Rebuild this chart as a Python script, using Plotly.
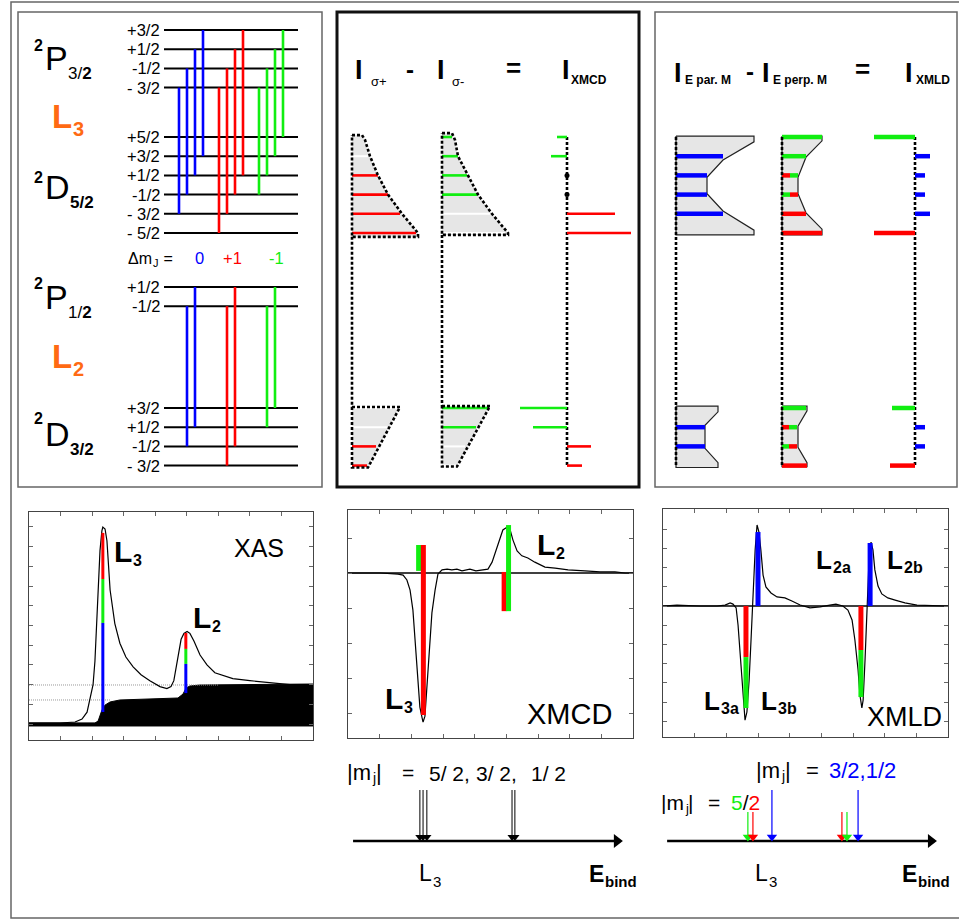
import re
import plotly.graph_objects as go

W, H = 959, 919
FONT = "Liberation Sans"
BLUE, RED, GREEN, ORANGE = "#0000ff", "#ff0000", "#11ee11", "#ff6a13"
GRAYFILL = "#e6e6e6"
COL = {"b": BLUE, "r": RED, "g": GREEN, "w": "#ffffff"}

# ---------------- data: level scheme ----------------
P32_m = [1.5, 0.5, -0.5, -1.5]
P32_lab = ["+3/2", "+1/2", "-1/2", "- 3/2"]
D52_m = [2.5, 1.5, 0.5, -0.5, -1.5, -2.5]
D52_lab = ["+5/2", "+3/2", "+1/2", "-1/2", "- 3/2", "- 5/2"]
P12_m = [0.5, -0.5]
P12_lab = ["+1/2", "-1/2"]
D32_m = [1.5, 0.5, -0.5, -1.5]
D32_lab = ["+3/2", "+1/2", "-1/2", "- 3/2"]
dm_values = [0, 1, -1]
dm_labels = ["0", "+1", "-1"]
dm_colors = ["b", "r", "g"]

# ---------------- data: XMCD schematic (line lengths per D level) ----------------
sigp_L3_red = [0, 0, 26, 36, 48, 64]
sigp_L3_white = [0, 16, 0, 0, 0, 0]
sigm_L3_green = [10, 16, 25, 35, 0, 0]
sigm_L3_white = [0, 0, 0, 0, 48, 63]
sigp_L2_red = [0, 0, 24, 15]
sigp_L2_white = [48, 35, 0, 0]
sigm_L2_green = [47, 34, 0, 0]
sigm_L2_white = [0, 0, 23, 16]
sigp_L3_env = [(-0.1, 10), (0.15, 13), (1, 18), (2, 26), (3, 36), (4, 50), (5, 66), (5.2, 66)]
sigm_L3_env = [(-0.2, 10), (0.15, 13), (1, 16), (2, 26), (3, 36), (4, 50), (5, 66), (5.1, 66)]
sigp_L2_env = [(-0.05, 48), (3.1, 16)]
sigm_L2_env = [(-0.1, 48), (3.05, 15)]

# ---------------- data: XMLD schematic ----------------
par_L3 = [[], [("b", 47)], [("b", 31)], [("b", 31)], [("b", 47)], []]
perp_L3 = [[("g", 40)], [("g", 24)], [("r", 8), ("g", 8)], [("g", 8), ("r", 8)], [("r", 24)], [("r", 40)]]
xmld_L3 = [("g", -41), ("b", 15), ("b", 10), ("b", 10), ("b", 15), ("r", -41)]
par_L2 = [[], [("b", 29)], [("b", 29)], []]
perp_L2 = [[("g", 24)], [("r", 7), ("g", 8)], [("g", 7), ("r", 8)], [("r", 25)]]
xmld_L2 = [("g", -23), ("b", 10), ("b", 10), ("r", -25)]
par_L3_env = [(-0.05, 78), (0.25, 78), (1.2, 47), (2.1, 31), (2.95, 31), (3.85, 47), (4.85, 78), (5.1, 78)]
perp_L3_env = [(-0.05, 40), (0.2, 40), (1.05, 24), (2.1, 16), (2.95, 16), (3.95, 24), (4.8, 40), (5.1, 40)]
par_L2_env = [(-0.1, 42), (0.2, 42), (0.9, 29), (2.1, 29), (2.85, 42), (3.1, 42)]
perp_L2_env = [(-0.1, 25), (0.15, 25), (0.95, 16), (2.05, 16), (2.85, 25), (3.05, 25)]

# ---------------- data: spectra ----------------
xas_E = [0, 0.98, 1.46, 1.68, 1.84, 1.93, 2.03, 2.09, 2.15, 2.22, 2.25, 2.31, 2.34, 2.41, 2.47, 2.57,
         2.72, 2.88, 3.07, 3.30, 3.55, 3.83, 4.15, 4.37, 4.50, 4.59, 4.72, 4.82, 4.91, 5.01, 5.10,
         5.23, 5.42, 5.64, 5.89, 6.46, 7.00, 7.54, 8.27, 9.0]
xas_I = [0.005, 0.005, 0.01, 0.025, 0.06, 0.12, 0.20, 0.32, 0.51, 0.73, 0.88, 0.98, 1.00, 0.99, 0.93, 0.68,
         0.51, 0.41, 0.34, 0.29, 0.25, 0.22, 0.19, 0.18, 0.19, 0.22, 0.35, 0.43, 0.46, 0.47, 0.46,
         0.42, 0.35, 0.30, 0.26, 0.23, 0.22, 0.21, 0.20, 0.20]
step_E = [0, 2.09, 2.19, 2.25, 2.31, 2.41, 2.57, 2.88, 4.15, 4.72, 4.88, 4.98, 5.10, 5.42, 9.0]
step_I = [0.005, 0.005, 0.015, 0.04, 0.07, 0.096, 0.112, 0.122, 0.127, 0.132, 0.152, 0.183, 0.193, 0.198, 0.203]
xas_levels = [0.122, 0.198]
xas_level_end = [2.6, 6.0]
xas_peak_E = [2.34, 4.97]
xas_peak_top = [0.97, 0.462]
xas_parts = [[("r", 0.234), ("g", 0.223), ("b", 0.452)], [("r", 0.081), ("g", 0.076), ("b", 0.148)]]

xmcd_E = [0, 1.01, 1.58, 1.74, 1.86, 1.96, 2.05, 2.12, 2.21, 2.27, 2.34, 2.37, 2.43, 2.49, 2.59, 2.65,
          2.75, 2.84, 2.97, 3.13, 3.28, 3.44, 3.60, 3.73, 3.85, 4.04, 4.23, 4.42, 4.55, 4.67, 4.80,
          4.89, 5.02, 5.12, 5.21, 5.34, 5.49, 5.68, 5.90, 6.22, 6.54, 6.95, 7.48, 7.96, 8.43, 8.75, 9.0]
xmcd_I = [0, 0, -0.03, -0.06, -0.2, -0.49, -1.06, -1.91, -3.06, -3.83, -4.14, -4.26, -4.09, -3.34, -2.06, -1.14,
          -0.49, -0.03, 0.09, 0.11, 0.09, 0.11, 0.06, 0.09, 0.11, 0.06, 0.09, 0.11, 0.31, 0.66, 1.03,
          1.23, 1.31, 1.23, 0.94, 0.63, 0.49, 0.43, 0.31, 0.17, 0.14, 0.09, 0.06, 0.03, 0.03, 0, 0]
xmcd_bars = [("g", 2.23, 0.8, 0.06), ("r", 2.38, 0.8, -4.06), ("r", 4.93, 0.03, -1.09), ("g", 5.07, 1.37, -1.09)]

xmld_E = [0, 0.44, 1.17, 1.71, 1.96, 2.12, 2.21, 2.31, 2.37, 2.43, 2.49, 2.56, 2.59, 2.65, 2.72, 2.78,
          2.84, 2.91, 2.97, 3.03, 3.09, 3.16, 3.25, 3.41, 3.60, 3.85, 4.07, 4.33, 4.64, 4.96, 5.27,
          5.46, 5.68, 5.84, 5.97, 6.06, 6.16, 6.22, 6.28, 6.32, 6.38, 6.44, 6.50, 6.57, 6.63, 6.69,
          6.79, 6.91, 7.10, 7.33, 7.64, 8.02, 8.59, 9.0]
xmld_I = [0, 0.05, 0, 0, 0.05, 0.16, 0.1, -0.1, -0.99, -2.29, -3.85, -5.42, -5.94, -5.52, -3.85, -1.77,
          0.83, 2.92, 4.22, 3.85, 2.92, 1.61, 0.99, 0.68, 0.47, 0.42, 0.26, 0.05, -0.10, -0.05, 0.05,
          0.10, 0, -0.21, -0.73, -1.77, -3.33, -4.64, -5.31, -4.9, -2.81, -0.21, 2.14, 3.33, 2.92, 1.88,
          1.04, 0.63, 0.42, 0.31, 0.16, 0.05, 0, 0]
xmld_bars = [("r", 2.62, 0, -2.66), ("g", 2.62, -2.66, -5.31), ("b", 3.0, 3.85, 0),
             ("r", 6.25, 0, -2.29), ("g", 6.25, -2.29, -4.74), ("b", 6.54, 3.28, 0)]

# binding-energy arrows (in spectrum energy units)
xmcd_arrow_E = [2.27, 2.37, 2.49, 5.18, 5.27]
xmcd_axis_E = [0.16, 8.68]
xmld_arrow_E = [("g", 2.68, "low"), ("r", 2.84, "low"), ("b", 3.44, "high"),
                ("r", 5.65, "low"), ("g", 5.81, "low"), ("b", 6.16, "high")]
xmld_axis_E = [0.13, 8.65]

# ---------------- layout constants ----------------
STEP = 19.2
P32_TOP, D52_TOP, P12_TOP, D32_TOP = 30, 137, 287, 408
LEV_X0, LEV_X1 = 164, 298
TR_X0 = {0: 179, 1: 219, -1: 259}
TR_DX = 8
XAS_BOX = (29, 313, 512, 740)
XMCD_BOX = (348, 633, 510, 738)
XMLD_BOX = (663, 948, 509, 737)

fig = go.Figure()


def seg(x, y, color, width, dash=None, xa="x", ya="y"):
    fig.add_trace(go.Scatter(x=x, y=y, mode="lines", line=dict(color=color, width=width, dash=dash),
                             xaxis=xa, yaxis=ya, hoverinfo="skip", showlegend=False))


def poly(x, y, fill, lcolor, lwidth):
    fig.add_trace(go.Scatter(x=x, y=y, mode="lines", fill="toself", fillcolor=fill,
                             line=dict(color=lcolor, width=lwidth),
                             hoverinfo="skip", showlegend=False))


def marker(x, y, symbol, size, color):
    fig.add_trace(go.Scatter(x=[x], y=[y], mode="markers",
                             marker=dict(symbol=symbol, size=size, color=color, line=dict(width=0)),
                             hoverinfo="skip", showlegend=False))


def txt(x, y, text, size, color="black", bold=False, xanchor="left", family=FONT):
    fig.add_annotation(x=x, y=y, xref="x", yref="y", text=f"<b>{text}</b>" if bold else text,
                       showarrow=False, font=dict(size=size, color=color, family=family),
                       xanchor=xanchor, yanchor="middle", borderpad=0)


# approximate advance widths (em) of the font, to chain text pieces (main text + subscript)
WREG = {"|": 0.26, "m": 0.833, "j": 0.222, "J": 0.5, "Δ": 0.668, "L": 0.556, "P": 0.667, "D": 0.722,
        "E": 0.667, " ": 0.278, "\u00a0": 0.278, "=": 0.584, "/": 0.278, "b": 0.556, "i": 0.222,
        "n": 0.556, "d": 0.556, "a": 0.556}
WBOLD = {"L": 0.611, "E": 0.667, "b": 0.611, "i": 0.278, "n": 0.611, "d": 0.611, "a": 0.556, "/": 0.278}


def adv(s, size, bold):
    s = re.sub("<[^>]+>", "", s)
    table = WBOLD if bold else WREG
    return sum(table.get(ch, WREG.get(ch, 0.556)) for ch in s) * size


def chain(x, y, parts, color="black"):
    # parts: (text, size, bold, dy)
    for text, size, bold, dy in parts:
        txt(x, y + dy, text, size, color=color, bold=bold)
        x += adv(text, size, bold) + 0.8


def ly(top, ms, m):
    return top + (ms[0] - m) * STEP


# ---------------- frames ----------------
shapes = []
def rect(x0, y0, x1, y1, color, width):
    shapes.append(dict(type="rect", xref="x", yref="y", x0=x0, y0=y0, x1=x1, y1=y1,
                       line=dict(color=color, width=width), fillcolor="rgba(0,0,0,0)", layer="below"))
rect(11, 2, 964, 918, "#666666", 1.5)
rect(18, 12, 322, 487, "#666666", 1.5)
rect(337, 12, 639, 487, "#111111", 3)
rect(655, 12, 957, 487, "#666666", 1.5)

# ---------------- panel 1: level scheme ----------------
for top, ms, labs in [(P32_TOP, P32_m, P32_lab), (D52_TOP, D52_m, D52_lab),
                      (P12_TOP, P12_m, P12_lab), (D32_TOP, D32_m, D32_lab)]:
    for m, lab in zip(ms, labs):
        y = ly(top, ms, m)
        seg([LEV_X0, LEV_X1], [y, y], "black", 2)
        txt(161, y, lab, 16.5, xanchor="right")

for (ptop, pms, dtop, dms) in [(P32_TOP, P32_m, D52_TOP, D52_m), (P12_TOP, P12_m, D32_TOP, D32_m)]:
    for dm, c in zip(dm_values, dm_colors):
        for mp in pms:
            md = mp - dm
            if md not in dms:
                continue
            x = TR_X0[dm] + TR_DX * (mp + 1.5)
            seg([x, x], [ly(ptop, pms, mp), ly(dtop, dms, md)], COL[c], 2.6)

for (ysup, ymain, letter, s) in [(45, 58, "P", "3/<b>2</b>"), (177, 187, "D", "<b>5/2</b>"),
                                 (283, 297, "P", "1/<b>2</b>"), (418, 434, "D", "<b>3/2</b>")]:
    txt(44, ysup, "2", 16, bold=True, xanchor="right")
    chain(44, ymain, [(letter, 34, False, 0), (s, 17, False, 15)])
for (yL, s) in [(116, "3"), (356, "2")]:
    chain(51, yL, [("L", 33, True, 0), (s, 20, True, 13)], color=ORANGE)

chain(127, 258, [("Δm", 16, False, 0), ("J", 11, False, 5), ("\u00a0=", 16, False, 0)])
for lab, c, xc in zip(dm_labels, dm_colors, [199, 232, 276]):
    txt(xc, 258, lab, 16.5, color=COL[c], xanchor="center")

# ---------------- panel 2: XMCD schematic ----------------
def env_poly(x0, top, env):
    ys = [top + i * STEP for i, _ in env]
    xs = [x0 + w for _, w in env]
    return [x0] + xs + [x0, x0], [ys[0]] + ys + [ys[-1], ys[0]]

DOT = "3px,2px"
cols2 = [(352, D52_TOP, sigp_L3_env, [("w", sigp_L3_white), ("r", sigp_L3_red)]),
         (442, D52_TOP, sigm_L3_env, [("w", sigm_L3_white), ("g", sigm_L3_green)]),
         (352, D32_TOP, sigp_L2_env, [("w", sigp_L2_white), ("r", sigp_L2_red)]),
         (442, D32_TOP, sigm_L2_env, [("w", sigm_L2_white), ("g", sigm_L2_green)])]
for x0, top, env, lines in cols2:
    px, py = env_poly(x0, top, env)
    poly(px, py, GRAYFILL, "rgba(0,0,0,0)", 0)
    for c, vals in lines:
        for i, v in enumerate(vals):
            if v > 0:
                y = top + i * STEP
                seg([x0, x0 + v], [y, y], COL[c], 2.6 if c != "w" else 2)
    seg(px, py, "black", 2.6, DOT)
seg([352, 352], [D52_TOP + 5.2 * STEP, D32_TOP - 0.05 * STEP], "black", 2.6, DOT)
seg([442, 442], [D52_TOP + 5.1 * STEP, D32_TOP - 0.1 * STEP], "black", 2.6, DOT)
seg([567, 567], [D52_TOP, D32_TOP + 3 * STEP], "black", 2.6, DOT)
for top, plus, minus in [(D52_TOP, sigp_L3_red, sigm_L3_green), (D32_TOP, sigp_L2_red, sigm_L2_green)]:
    for i, (a, b) in enumerate(zip(plus, minus)):
        d = a - b
        y = top + i * STEP
        if abs(d) < 3:
            marker(567, y, "circle", 5, "black")
        elif d > 0:
            seg([567, 567 + d], [y, y], RED, 2.6)
        else:
            seg([567 + d, 567], [y, y], GREEN, 2.6)

txt(359, 70, "I", 27, bold=True, xanchor="center")
txt(370, 81, "σ+", 13)
txt(410, 69, "-", 24, bold=True, xanchor="center")
txt(441, 70, "I", 27, bold=True, xanchor="center")
txt(451, 81, "σ-", 13)
txt(513, 68, "=", 26, bold=True, xanchor="center")
txt(566, 70, "I", 27, bold=True, xanchor="center")
txt(570, 80, "XMCD", 12, bold=True)

# ---------------- panel 3: XMLD schematic ----------------
for x0, top, env, rows in [(676, D52_TOP, par_L3_env, par_L3), (782, D52_TOP, perp_L3_env, perp_L3),
                           (676, D32_TOP, par_L2_env, par_L2), (782, D32_TOP, perp_L2_env, perp_L2)]:
    px, py = env_poly(x0, top, env)
    poly(px, py, GRAYFILL, "#222222", 1.2)
    for i, row in enumerate(rows):
        y = top + i * STEP
        xx = x0
        for c, v in row:
            seg([xx, xx + v], [y, y], COL[c], 4.5)
            xx += v
for x in [676, 782, 915]:
    seg([x, x], [D52_TOP, D32_TOP + 3 * STEP], "black", 2.6, DOT)
for top, vals in [(D52_TOP, xmld_L3), (D32_TOP, xmld_L2)]:
    for i, (c, v) in enumerate(vals):
        y = top + i * STEP
        seg([915, 915 + v], [y, y], COL[c], 4.5)

txt(678, 73, "I", 27, bold=True, xanchor="center")
txt(684, 80, "E par. M", 12, bold=True)
txt(750, 71, "-", 24, bold=True, xanchor="center")
txt(766, 73, "I", 27, bold=True, xanchor="center")
txt(772, 80, "E perp. M", 12, bold=True)
txt(862, 69, "=", 26, bold=True, xanchor="center")
txt(909, 73, "I", 27, bold=True, xanchor="center")
txt(915, 80, "XMLD", 12, bold=True)

# ---------------- spectra ----------------
fig.add_trace(go.Scatter(x=step_E + step_E[::-1], y=step_I + [-0.01] * len(step_E), fill="toself",
                         fillcolor="black", mode="lines", line=dict(color="black", width=1),
                         xaxis="x2", yaxis="y2", hoverinfo="skip", showlegend=False))
seg([0, 9], [0, 0], "black", 2.5, xa="x2", ya="y2")
for lv, e1 in zip(xas_levels, xas_level_end):
    seg([0, e1], [lv, lv], "#999999", 1, "1px,1px", xa="x2", ya="y2")
seg(xas_E, xas_I, "black", 1.2, xa="x2", ya="y2")
for e, t, parts in zip(xas_peak_E, xas_peak_top, xas_parts):
    y = t
    for c, h in parts:
        seg([e, e], [y, y - h], COL[c], 3, xa="x2", ya="y2")
        y -= h

seg([0, 9], [0, 0], "black", 1.5, xa="x3", ya="y3")
seg(xmcd_E, xmcd_I, "black", 1.2, xa="x3", ya="y3")
for c, e, y0, y1 in xmcd_bars:
    seg([e, e], [y0, y1], COL[c], 5, xa="x3", ya="y3")

seg([0, 9], [0, 0], "black", 1.5, xa="x4", ya="y4")
seg(xmld_E, xmld_I, "black", 1.2, xa="x4", ya="y4")
for c, e, y0, y1 in xmld_bars:
    seg([e, e], [y0, y1], COL[c], 5, xa="x4", ya="y4")

for (x, y, s) in [(113, 551, "3"), (192, 617, "2")]:
    chain(x, y, [("L", 30, True, 0), (s, 16, True, 9)])
txt(233, 548, "XAS", 25)
for (x, y, s) in [(384, 698, "3"), (536, 544, "2")]:
    chain(x, y, [("L", 30, True, 0), (s, 16, True, 9)])
txt(526, 714, "XMCD", 29)
for xL, yL, s in [(815, 560, "2a"), (886, 560, "2b"), (703, 701, "3a"), (760, 701, "3b")]:
    chain(xL, yL, [("L", 26, True, 0), (s, 16, True, 7)])
txt(866, 717, "XMLD", 27)

# ---------------- binding-energy axes ----------------
def e2px(box, e):
    return box[0] + e / 9 * (box[1] - box[0])

AXY = 841
for box, (e0, e1) in [(XMCD_BOX, xmcd_axis_E), (XMLD_BOX, xmld_axis_E)]:
    x0, x1 = e2px(box, e0), e2px(box, e1)
    seg([x0, x1 - 8], [AXY, AXY], "black", 2.5)
    marker(x1 - 6, AXY, "triangle-right", 12, "black")
for e in xmcd_arrow_E:
    x = e2px(XMCD_BOX, e)
    seg([x, x], [790, AXY - 6], "black", 1)
    marker(x, AXY - 4, "triangle-down", 8, "black")
for c, e, lvl in xmld_arrow_E:
    x = e2px(XMLD_BOX, e)
    seg([x, x], [812 if lvl == "low" else 790, AXY - 6], COL[c], 1.2)
    marker(x, AXY - 4, "triangle-down", 9, COL[c])

NB = "\u00a0"
chain(346, 772, [("|m", 22, False, 0), ("j", 14, False, 6), ("|", 22, False, 0)])
txt(401, 772, "=", 21)
txt(428, 773, "5/" + NB + "2,", 21)
txt(475, 773, "3/" + NB + "2,", 21)
txt(530, 773, "1/" + NB + "2", 21)
chain(418, 873, [("L", 23, False, 0), ("3", 15, False, 8)])
chain(588, 874, [("E", 23, True, 0), ("bind", 15, True, 7)])

chain(755, 770, [("|m", 22, False, 0), ("j", 14, False, 6), ("|", 22, False, 0)])
txt(805, 770, "=", 22)
txt(828, 770, "3/2,1/2", 22, color=BLUE)
chain(660, 802, [("|m", 21, False, 0), ("j", 13, False, 6), ("|", 21, False, 0)])
txt(707, 802, "=", 21)
txt(730, 802, f"<span style='color:{GREEN}'>5</span>/<span style='color:{RED}'>2</span>", 21)
chain(754, 873, [("L", 23, False, 0), ("3", 15, False, 8)])
chain(901, 874, [("E", 23, True, 0), ("bind", 15, True, 7)])

# ---------------- axes ----------------
def spec_axes(n, box, yr, dty):
    common = dict(showticklabels=False, showgrid=False, zeroline=False, showline=True,
                  linecolor="#444444", linewidth=1, mirror="ticks", ticks="inside", ticklen=4,
                  tickcolor="#666666", tickwidth=1)
    xa = dict(domain=[box[0] / W, box[1] / W], range=[0, 9], dtick=1, tick0=0, anchor=f"y{n}", **common)
    ya = dict(domain=[1 - box[3] / H, 1 - box[2] / H], range=yr, dtick=dty, tick0=0, anchor=f"x{n}", **common)
    return xa, ya

x2, y2 = spec_axes(2, XAS_BOX, [-0.0812, 1.0761], 0.1)
x3, y3 = spec_axes(3, XMCD_BOX, [-4.714, 1.8], 1)
x4, y4 = spec_axes(4, XMLD_BOX, [-6.82, 5.05], 1)

fig.update_layout(
    width=W, height=H, margin=dict(l=0, r=0, t=0, b=0), paper_bgcolor="white", plot_bgcolor="rgba(0,0,0,0)",
    showlegend=False, shapes=shapes,
    xaxis=dict(domain=[0, 1], range=[0, W], visible=False, fixedrange=True),
    yaxis=dict(domain=[0, 1], range=[H, 0], visible=False, fixedrange=True),
    xaxis2=x2, yaxis2=y2, xaxis3=x3, yaxis3=y3, xaxis4=x4, yaxis4=y4,
    font=dict(family=FONT),
)

fig.write_html("out.html")
